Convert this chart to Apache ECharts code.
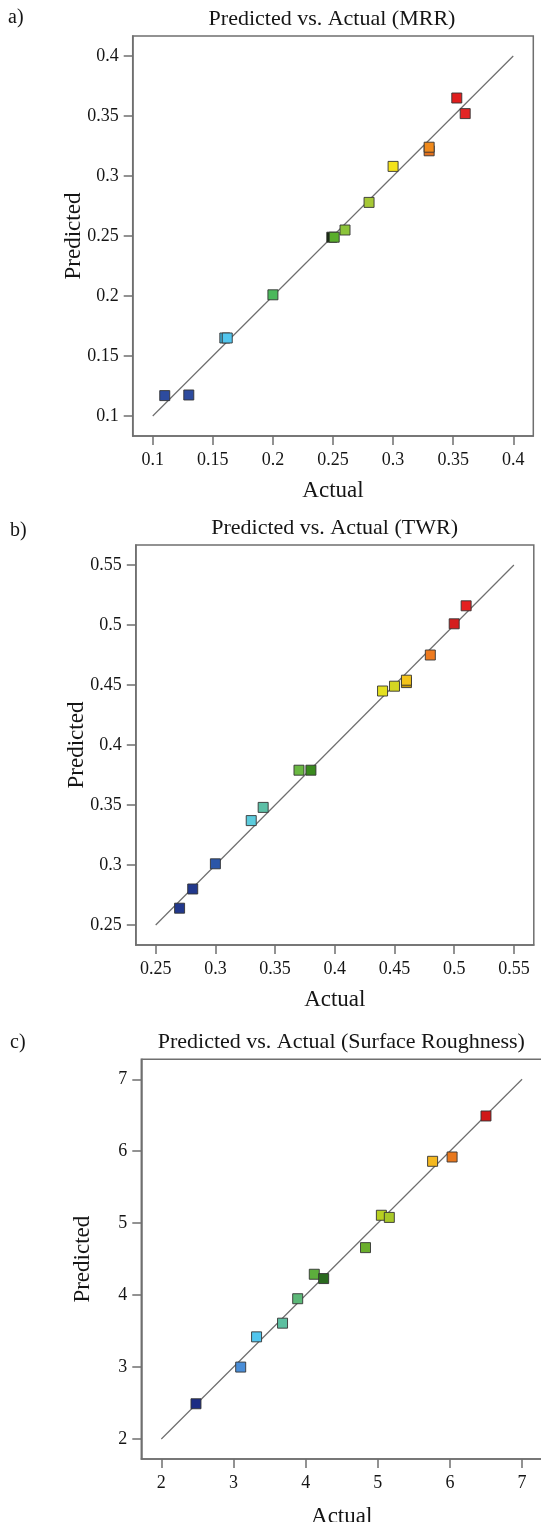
<!DOCTYPE html>
<html><head><meta charset="utf-8">
<script src="https://cdn.jsdelivr.net/npm/echarts@6/dist/echarts.min.js"></script>
<style>html,body{margin:0;padding:0;background:#fff}#c{width:541px;height:1522px}</style>
</head><body><div id="c"></div>
<script>
// ---- Data ----
const mrrActual    = [0.11, 0.13, 0.16, 0.162, 0.20, 0.249, 0.251, 0.26, 0.28, 0.30, 0.33, 0.33, 0.353, 0.36];
const mrrPredicted = [0.117, 0.1175, 0.165, 0.165, 0.201, 0.249, 0.249, 0.255, 0.278, 0.308, 0.321, 0.324, 0.365, 0.352];
const mrrLine = [0.1, 0.4];
const mrrTicks = [0.1, 0.15, 0.2, 0.25, 0.3, 0.35, 0.4];

const twrActual    = [0.27, 0.281, 0.30, 0.33, 0.34, 0.37, 0.38, 0.44, 0.45, 0.46, 0.46, 0.48, 0.50, 0.51];
const twrPredicted = [0.264, 0.28, 0.301, 0.337, 0.348, 0.379, 0.379, 0.445, 0.449, 0.452, 0.454, 0.475, 0.501, 0.516];
const twrLine = [0.25, 0.55];
const twrTicks = [0.25, 0.3, 0.35, 0.4, 0.45, 0.5, 0.55];

const srActual    = [2.48, 3.10, 3.32, 3.68, 3.89, 4.12, 4.25, 4.83, 5.05, 5.16, 5.76, 6.03, 6.50];
const srPredicted = [2.49, 3.00, 3.42, 3.61, 3.95, 4.29, 4.23, 4.66, 5.11, 5.08, 5.86, 5.92, 6.49];
const srLine = [2, 7];
const srTicks = [2, 3, 4, 5, 6, 7];

const titles = ['Predicted vs. Actual (MRR)', 'Predicted vs. Actual (TWR)', 'Predicted vs. Actual (Surface Roughness)'];
const panelLabels = ['a)', 'b)', 'c)'];
const xName = 'Actual';
const yName = 'Predicted';

// ---- Styles (colours per point) ----
const mrrColors = ['#2d4b9e', '#2d4b9e', '#3fb4dc', '#52c6ee', '#4cb85c', '#142a0c', '#5aae2c', '#8cc43a', '#a6c835', '#f4e21a', '#e0701e', '#f08a1c', '#e01e1e', '#e22424'];
const twrColors = ['#22388c', '#22388c', '#2c56a8', '#5ccbdc', '#5cbfa6', '#6ab842', '#3a8a1e', '#e4e020', '#d4d622', '#c89a08', '#f4c41a', '#ee7a1e', '#d41e1e', '#e42020'];
const srColors  = ['#1c2c84', '#4a8ed8', '#52c6ee', '#5cbfa0', '#5cb878', '#5cae3c', '#2a6a1e', '#6aae2c', '#b8d020', '#a8c828', '#f4b820', '#e8781e', '#d01818'];

const FONT = 'Liberation Serif';
const AX = '#6f6f6f';
const TXT = '#151515';

const grids = [
  {left: 132.7, top: 36, width: 400.6, height: 400},
  {left: 135.8, top: 545, width: 398, height: 400},
  {left: 141.3, top: 1059.3, width: 400.8, height: 399.7}
];
const ranges = [[0.083333, 0.416667], [0.233333, 0.566667], [1.722222, 7.277778]];
const tickSets = [mrrTicks, twrTicks, srTicks];
const actuals = [mrrActual, twrActual, srActual];
const preds = [mrrPredicted, twrPredicted, srPredicted];
const lines = [mrrLine, twrLine, srLine];
const colorSets = [mrrColors, twrColors, srColors];
const titleCenters = [[332, 8.6], [334.6, 517.6], [341.3, 1031.6]];
const labelPos = [[8, 8], [10, 521], [10, 1033]];
const xNameGaps = [43, 43, 46];

function axis(i, isX) {
  return {
    type: 'value', gridIndex: i,
    min: ranges[i][0], max: ranges[i][1],
    name: isX ? xName : yName,
    nameLocation: 'middle',
    nameGap: isX ? xNameGaps[i] : 47,
    nameRotate: isX ? 0 : 90,
    nameMoveOverlap: false,
    nameTextStyle: {fontFamily: FONT, fontSize: 23, color: TXT},
    axisLine: {show: true, onZero: false, lineStyle: {color: AX, width: 1.5}},
    axisTick: {show: true, length: 9, lineStyle: {color: AX, width: 1.5}, customValues: tickSets[i]},
    axisLabel: {show: true, margin: isX ? 15 : 14, fontFamily: FONT, fontSize: 18, color: TXT,
                customValues: tickSets[i], formatter: v => String(v)},
    splitLine: {show: false}
  };
}

const option = {
  backgroundColor: '#fff',
  animation: false,
  title: [
    ...titles.map((t, i) => ({
      text: t, left: titleCenters[i][0], top: titleCenters[i][1], textAlign: 'center', textVerticalAlign: 'top', padding: 0,
      textStyle: {fontFamily: FONT, fontSize: 22, fontWeight: 'normal', color: TXT}
    })),
    ...panelLabels.map((t, i) => ({
      text: t, left: labelPos[i][0], top: labelPos[i][1], padding: 0,
      textStyle: {fontFamily: FONT, fontSize: 20, fontWeight: 'normal', color: TXT}
    }))
  ],
  grid: grids.map(g => Object.assign({show: true, borderColor: AX, borderWidth: 1.5, backgroundColor: 'transparent', outerBoundsMode: 'none', containLabel: false}, g)),
  xAxis: [0, 1, 2].map(i => axis(i, true)),
  yAxis: [0, 1, 2].map(i => axis(i, false)),
  series: [
    ...[0, 1, 2].map(i => ({
      type: 'line', xAxisIndex: i, yAxisIndex: i,
      data: [[lines[i][0], lines[i][0]], [lines[i][1], lines[i][1]]],
      showSymbol: false, symbol: 'none', silent: true,
      lineStyle: {color: '#6e6e6e', width: 1.2}, z: 2
    })),
    ...[0, 1, 2].map(i => ({
      type: 'scatter', xAxisIndex: i, yAxisIndex: i,
      data: actuals[i].map((x, k) => [x, preds[i][k]]),
      symbol: 'rect', symbolSize: 10,
      itemStyle: {color: p => colorSets[i][p.dataIndex], borderColor: '#333', borderWidth: 0.9, opacity: 1},
      z: 3
    }))
  ]
};

const chart = echarts.init(document.getElementById('c'), null, {renderer: 'canvas'});
chart.setOption(option);
</script>
</body></html>
